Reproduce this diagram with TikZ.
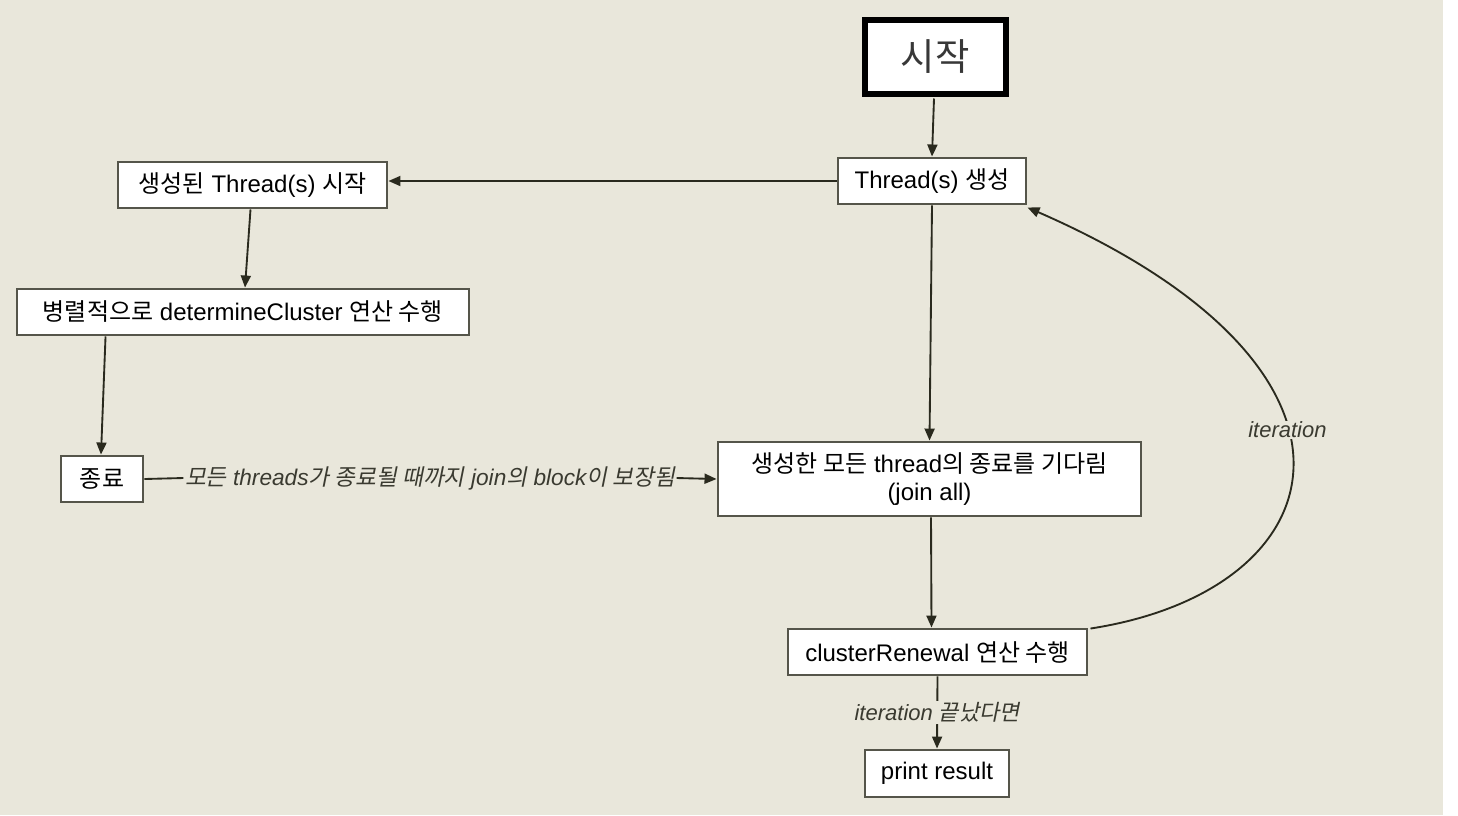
\documentclass[tikz,border=0pt]{standalone}
\usepackage{fontspec}
\setmainfont{Liberation Sans}
\newfontfamily\krfont{Noto Sans CJK KR}
\newfontfamily\krslant[FakeSlant=0.2]{Noto Sans CJK KR}
\newcommand\kr[1]{{\krfont #1}}
\newcommand\krs[1]{{\krslant #1}}
\usetikzlibrary{arrows.meta,calc}
\definecolor{bg}{HTML}{E9E7DB}
\definecolor{boxline}{HTML}{55554A}
\definecolor{arrowc}{HTML}{2A2A1E}
\definecolor{labc}{HTML}{3A3A30}
\begin{document}
\begin{tikzpicture}[x=0.75pt,y=-0.75pt,
  stepbox/.style={draw=boxline,line width=2.2pt,fill=white,inner sep=0pt,
    font=\fontsize{18}{21}\selectfont,text=black,align=center},
  startbox/.style={draw=black,line width=4.5pt,fill=white,inner sep=0pt,
    font=\fontsize{28}{30}\selectfont,text=black!78},
  conn/.style={draw=arrowc,line width=1.4pt,-{Triangle[length=9pt,width=7.5pt]}},
  lab/.style={font=\fontsize{16.5}{18}\selectfont\itshape,text=labc,fill=bg,inner sep=1pt}]
\useasboundingbox (0,0) rectangle (1458,815);
\fill[white] (0,0) rectangle (1458,815);
\fill[bg] (0,0) rectangle (1443,815);

\node[startbox,minimum width=141*0.75pt,minimum height=74*0.75pt] (start) at (935,56.5) {\kr{시작}};
\node[stepbox,minimum width=188*0.75pt,minimum height=46*0.75pt] (create) at (932,181) {Thread(s) \kr{생성}};
\node[stepbox,minimum width=269*0.75pt,minimum height=46*0.75pt] (started) at (252.5,185) {\kr{생성된} Thread(s) \kr{시작}};
\node[stepbox,minimum width=452*0.75pt,minimum height=46*0.75pt] (para) at (243,312) {\kr{병렬적으로} determineCluster \kr{연산 수행}};
\node[stepbox,minimum width=82*0.75pt,minimum height=46*0.75pt] (end) at (102,479) {\kr{종료}};
\node[stepbox,font=\fontsize{18}{21.5}\selectfont,minimum width=423*0.75pt,minimum height=74*0.75pt] (wait) at (929.5,479) {\kr{생성한 모든} thread\kr{의 종료를 기다림}\\(join all)};
\node[stepbox,minimum width=299*0.75pt,minimum height=46*0.75pt] (renew) at (937.5,652) {clusterRenewal \kr{연산 수행}};
\node[stepbox,minimum width=144*0.75pt,minimum height=47*0.75pt] (print) at (937,773.5) {print result};

\draw[conn] ($(start.south)+(-1,2)$) -- (create.north);
\draw[conn] (create.west) -- ($(started.east)+(0,-4)$);
\draw[conn] ($(started.south)+(-2,0)$) -- ($(para.north)+(2,0)$);
\draw[conn] ($(para.south west)+(90,0)$) -- ($(end.north)+(-1,0)$);

\node[lab,font=\fontsize{17}{18}\selectfont\itshape,fill=none] (joinlab) at (430,478) {\krs{모든} threads\krs{가 종료될 때까지} join\krs{의} block\krs{이 보장됨}};
\draw[draw=arrowc,line width=1.4pt] (end.east) -- (joinlab.west);
\draw[conn] (joinlab.east) -- (wait.west);

\draw[conn] (create.south) -- (wait.north);
\draw[conn] ($(wait.south)+(1.5,0)$) -- ($(renew.north)+(-6,0)$);

\draw[conn] ($(renew.north east)+(2,1)$) .. controls (1340,590) and (1400,370) .. ($(create.south east)+(0,2)$)
  node[lab,pos=0.57] (itlab) {iteration};

\draw[conn] (renew.south) -- node[lab] (endlab) {iteration \krs{끝났다면}} (print.north);
\end{tikzpicture}
\end{document}
